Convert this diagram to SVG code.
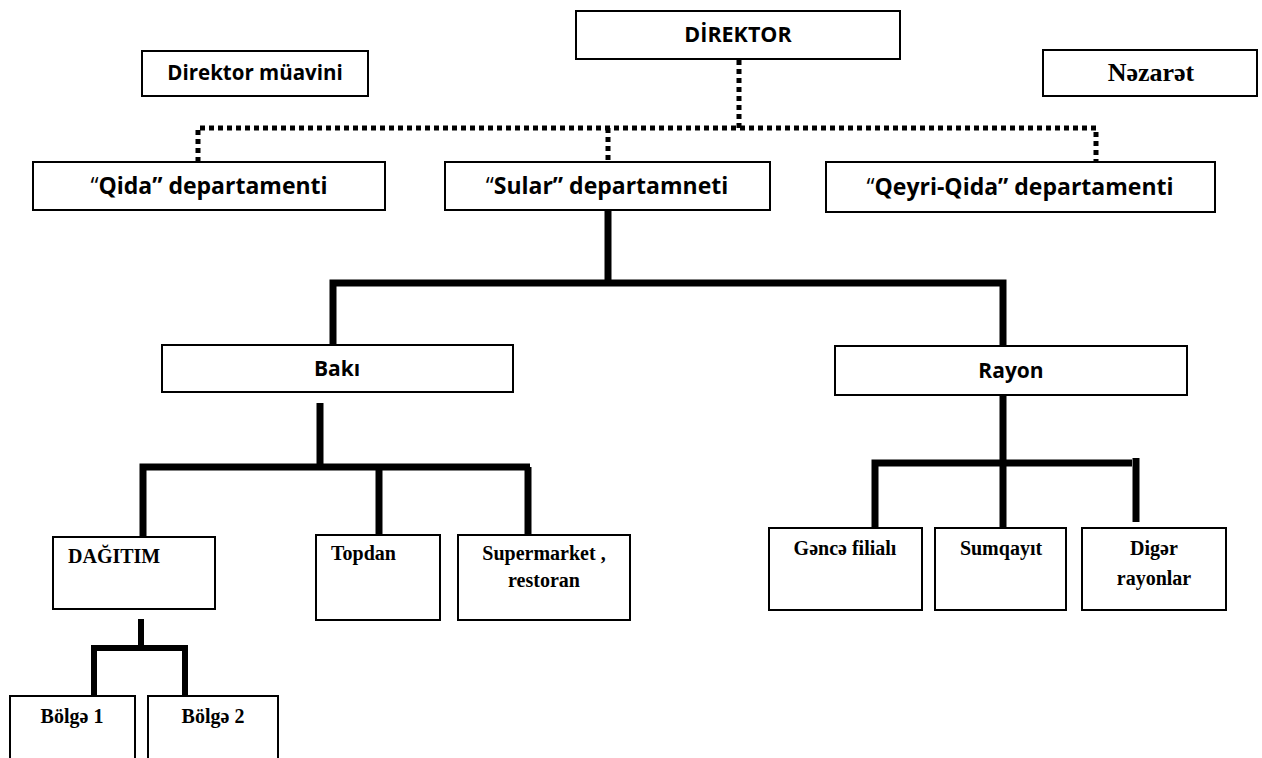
<svg xmlns="http://www.w3.org/2000/svg" width="1262" height="758" viewBox="0 0 1262 758">
<style>
.box{fill:#fff;stroke:#000;stroke-width:2}
.sans{font-family:"Open Sans","Liberation Sans",sans-serif;font-weight:bold;fill:#000}
.serif{font-family:"Liberation Serif","Times New Roman",serif;font-weight:bold;fill:#000}
.q{font-weight:normal}
.dot{fill:none;stroke:#000;stroke-width:5;stroke-dasharray:5 4}
.thick{fill:none;stroke:#000;stroke-width:7;stroke-linejoin:miter;stroke-linecap:butt}
.mid{fill:none;stroke:#000;stroke-width:6;stroke-linejoin:miter;stroke-linecap:butt}
</style>
<rect width="1262" height="758" fill="#fff"/>
<g id="connectors">
<path class="dot" d="M739,60 V128"/>
<path class="dot" d="M198,162 V128 H1096 V162"/>
<path class="dot" d="M608,128 V162"/>
<path class="thick" d="M608,211 V283"/>
<path class="thick" d="M333,345 V283 H1003 V346"/>
<path class="thick" d="M320,403 V467"/>
<path class="thick" d="M143,537 V467 H530"/>
<path class="thick" d="M379,467 V535"/>
<path class="thick" d="M528,467 V535"/>
<path class="thick" d="M1003,395 V537"/>
<path class="thick" d="M875,528 V463 H1132"/>
<path class="thick" d="M1136,458 V522"/>
<path class="mid" d="M141,619 V648"/>
<path class="mid" d="M94,695 V648 H188"/>
<path class="mid" d="M185,648 V695"/>
</g>
<g id="direktor"><rect class="box" x="576" y="11" width="324" height="48"/><text class="sans" x="738" y="42" font-size="21.5" text-anchor="middle">DİREKTOR</text></g>
<g id="muavin"><rect class="box" x="142" y="51" width="226" height="45"/><text class="sans" x="255" y="80" font-size="20.5" text-anchor="middle">Direktor müavini</text></g>
<g id="nezaret"><rect class="box" x="1043" y="50" width="214" height="46"/><text class="serif" x="1151" y="81" font-size="26" text-anchor="middle">Nəzarət</text></g>
<g id="qida"><rect class="box" x="33" y="162" width="352" height="48"/><text class="sans" x="209" y="194" font-size="23" text-anchor="middle"><tspan class="q">“</tspan>Qida” departamenti</text></g>
<g id="sular"><rect class="box" x="445" y="162" width="325" height="48"/><text class="sans" x="607" y="194" font-size="23" text-anchor="middle"><tspan class="q">“</tspan>Sular” departamneti</text></g>
<g id="qeyri"><rect class="box" x="826" y="162" width="389" height="50"/><text class="sans" x="1020" y="195" font-size="23" text-anchor="middle"><tspan class="q">“</tspan>Qeyri-Qida” departamenti</text></g>
<g id="baki"><rect class="box" x="162" y="345" width="351" height="47"/><text class="sans" x="337" y="376" font-size="21" text-anchor="middle">Bakı</text></g>
<g id="rayon"><rect class="box" x="835" y="346" width="352" height="49"/><text class="sans" x="1011" y="378" font-size="21" text-anchor="middle">Rayon</text></g>
<g id="dagitim"><rect class="box" x="53" y="537" width="162" height="72"/><text class="serif" x="68" y="563" font-size="20">DAĞITIM</text></g>
<g id="topdan"><rect class="box" x="316" y="535" width="124" height="85"/><text class="serif" x="331" y="560" font-size="20">Topdan</text></g>
<g id="supermarket"><rect class="box" x="458" y="535" width="172" height="85"/><text class="serif" x="544" y="560" font-size="20" text-anchor="middle">Supermarket ,</text><text class="serif" x="544" y="587" font-size="20" text-anchor="middle">restoran</text></g>
<g id="bolge1"><rect class="box" x="10" y="696" width="125" height="70"/><text class="serif" x="72" y="723" font-size="20" text-anchor="middle">Bölgə 1</text></g>
<g id="bolge2"><rect class="box" x="148" y="696" width="130" height="70"/><text class="serif" x="213" y="723" font-size="20" text-anchor="middle">Bölgə 2</text></g>
<g id="gence"><rect class="box" x="769" y="528" width="153" height="82"/><text class="serif" x="845" y="555" font-size="20" text-anchor="middle">Gəncə filialı</text></g>
<g id="sumqayit"><rect class="box" x="935" y="528" width="131" height="82"/><text class="serif" x="1001" y="555" font-size="20" text-anchor="middle">Sumqayıt</text></g>
<g id="diger"><rect class="box" x="1082" y="528" width="144" height="82"/><text class="serif" x="1154" y="555" font-size="20" text-anchor="middle">Digər</text><text class="serif" x="1154" y="585" font-size="20" text-anchor="middle">rayonlar</text></g>
</svg>
